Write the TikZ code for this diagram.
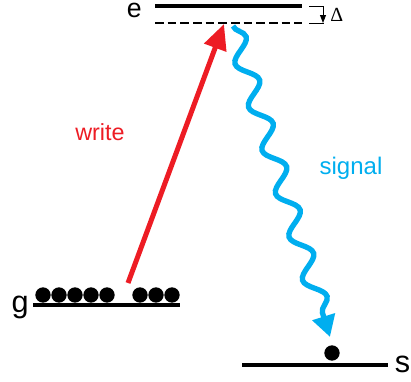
\documentclass[tikz,border=0pt]{standalone}
\usepackage{fontspec}
\setmainfont{Liberation Sans}
\newfontfamily\deltafont{Liberation Serif}
\usetikzlibrary{arrows.meta,decorations.pathmorphing}
\definecolor{writered}{RGB}{237,28,36}
\definecolor{signalblue}{RGB}{0,174,239}
\tikzset{
  level/.style={line width=3pt},
  atom/.style={circle,fill=black,inner sep=0pt,minimum size=11.5pt},
  statelabel/.style={inner sep=0pt,font=\fontsize{23}{28}\selectfont},
}

\begin{document}
\begin{tikzpicture}[x=0.75pt,y=0.75pt,yscale=-1,xscale=1]
        \useasboundingbox (0,0) rectangle (411,382);
        %Level ends
        \coordinate (eL) at (155,6);   \coordinate (eR) at (302,6);
        \coordinate (dL) at (155,23);  \coordinate (dR) at (302,23);
        \coordinate (gL) at (33,305);  \coordinate (gR) at (180,305);
        \coordinate (sL) at (242,365); \coordinate (sR) at (388,365);
        %Straight Lines
        \draw [level] (eL) -- (eR) ;
        \draw [line width=1.8pt, dash pattern=on 6.5pt off 3pt] (dL) -- (dR) ;
        \draw [level] (gL) -- (gR) ;
        \draw [level] (sL) -- (sR) ;
        %Detuning bracket
        \coordinate (bT) at (309,6);   \coordinate (bB) at (309,23);
        \coordinate (bTR) at (323,6);  \coordinate (bBR) at (323,23);
        \draw [line width=0.7pt, -{Triangle[length=6pt,width=4.5pt]}] (bT) -- (bTR) -- (bBR) ;
        \draw [line width=0.7pt] (bB) -- ([xshift=0.75pt]bBR) ;
        % Atoms
        \foreach \x [count=\i] in {43,59,75,91,107,140,156,172}
            \node [atom] (g\i) at (\x,295) {};
        \node [atom] (s1) at (332,353) {};
        % Text Node
        \node [statelabel, font=\fontsize{20}{24}\selectfont, anchor=base east] (e) at (142,17.5) {e};
        \node [statelabel, anchor=base east] (g) at (29,312) {g};
        \node [statelabel, anchor=base east] (s) at (410.5,372) {s};
        \node [inner sep=0pt, anchor=west] (delta) at (330,15) {\deltafont\fontsize{15}{16}\selectfont Δ};
        \node [inner sep=0pt, anchor=base, color=writered, font=\fontsize{17.5}{20}\selectfont] (write) at (100,140) {write};
        \node [inner sep=0pt, anchor=base, color=signalblue, font=\fontsize{18}{20}\selectfont] (signal) at (351,174) {signal};
        %Transitions
        \coordinate (wstart) at (128,283);
        \coordinate (wend) at (224,24);
        \coordinate (sstart) at (233,26);
        \coordinate (send) at (330,337);
        \draw [color=writered, line width=3.75pt, -{Triangle[length=19pt,width=17pt]}] (wstart) -- (wend) ;
        \draw [color=signalblue, line width=4pt, -{Triangle[length=16pt,width=17pt]},
               decorate, decoration={snake, segment length=34pt, amplitude=7pt, post length=17pt}] (sstart) -- (send) ;
\end{tikzpicture}
\end{document}
